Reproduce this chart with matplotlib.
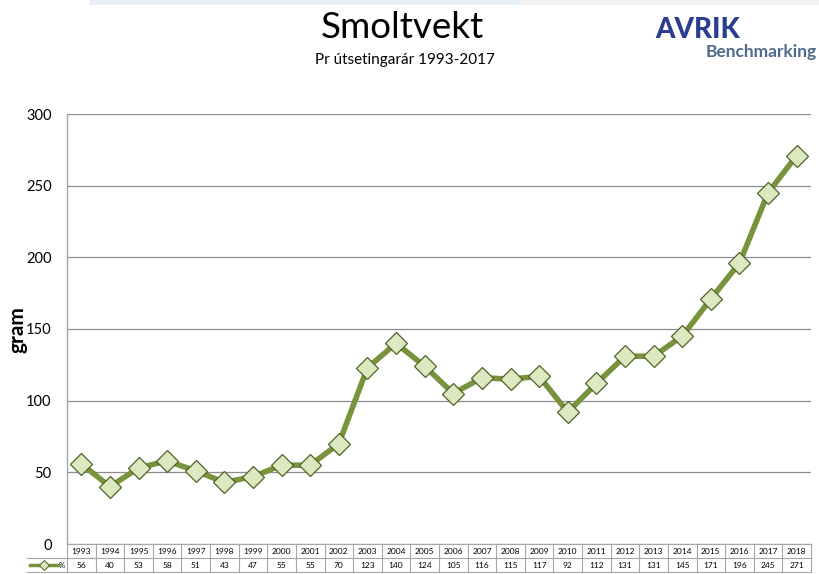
import matplotlib.pyplot as plt
from matplotlib.lines import Line2D
from matplotlib.patches import Rectangle

years = [str(y) for y in range(1993, 2019)]
weights = [56, 40, 53, 58, 51, 43, 47, 55, 55, 70, 123, 140, 124, 105,
           116, 115, 117, 92, 112, 131, 131, 145, 171, 196, 245, 271]
yticks = [0, 50, 100, 150, 200, 250, 300]

W, H = 819, 574
fig = plt.figure(figsize=(W / 100, H / 100), dpi=100)
plt.rcParams['font.family'] = ['Lato', 'DejaVu Sans']

# axes placed in pixel units
left, right, top, bottom = 67, 811, 114, 544
ax = fig.add_axes([left / W, 1 - bottom / H, (right - left) / W, (bottom - top) / H])

line_col = '#77933c'
edge_col = '#4f6228'
face_col = '#dbe8c0'
grid_col = '#8c8c8c'
tab_col = '#a6a6a6'

x = list(range(len(years)))
ax.plot(x, weights, color=line_col, lw=4.0, marker='D', ms=11,
        mfc=face_col, mec=edge_col, mew=0.9, zorder=3, clip_on=False)

ax.set_xlim(-0.5, len(years) - 0.5)
ax.set_ylim(0, 300)
ax.set_yticks(yticks)
ax.set_yticklabels([str(v) for v in yticks], fontsize=10.5)
ax.tick_params(axis='y', length=0, pad=11)
ax.set_xticks([])
ax.yaxis.grid(True, color=grid_col, lw=0.9)
ax.set_axisbelow(True)
for s in ['top', 'right', 'bottom']:
    ax.spines[s].set_visible(False)
ax.spines['left'].set_color(tab_col)
ax.spines['left'].set_linewidth(1.0)

ax.set_ylabel('gram', fontsize=15, fontweight='bold', va='center')
ax.yaxis.set_label_coords(-(67 - 18) / (right - left), (544 - 330) / (bottom - top))

# data table below plot: header row with years, data row with values
rh = 14 / (bottom - top)
tr = ax.get_xaxis_transform()
lw_t = 0.8
n = len(years)
for yy in [0, -rh, -2 * rh]:
    ax.plot([-0.5, n - 0.5], [yy, yy], transform=tr, color=tab_col, lw=lw_t, clip_on=False)
for i in range(n + 1):
    ax.plot([i - 0.5, i - 0.5], [0, -2 * rh], transform=tr, color=tab_col, lw=lw_t, clip_on=False)
for i in range(n):
    ax.text(i, -rh / 2, years[i], transform=tr, ha='center', va='center', fontsize=6)
    ax.text(i, -1.5 * rh, str(weights[i]), transform=tr, ha='center', va='center', fontsize=6)

# row label cell with legend key
lab_left = (27 - left) / (right - left)
ax.plot([lab_left, 0], [-rh, -rh], transform=ax.transAxes, color=tab_col, lw=lw_t, clip_on=False)
ax.plot([lab_left, 0], [-2 * rh, -2 * rh], transform=ax.transAxes, color=tab_col, lw=lw_t, clip_on=False)
ky = 1 - 565 / H
fig.add_artist(Line2D([30 / W, 58 / W], [ky, ky], color=line_col, lw=2.5))
fig.add_artist(Line2D([44 / W], [ky], marker='D', ms=5, mfc=face_col, mec=edge_col,
                      mew=0.7, color=line_col))
fig.text(59 / W, ky, '%', fontsize=5.5, va='center', ha='left')

# titles
fig.text(402 / W, 1 - 27 / H, 'Smoltvekt', fontsize=26.5, ha='center', va='center')
fig.text(405 / W, 1 - 60 / H, 'Pr útsetingarár 1993-2017', fontsize=11, ha='center', va='center')

# top band
fig.add_artist(Rectangle((90 / W, 1 - 5 / H), 430 / W, 5 / H, color='#e6eff8', lw=0))
fig.add_artist(Rectangle((520 / W, 1 - 5 / H), 299 / W, 5 / H, color='#f2f2f2', lw=0))

# logo text
fig.text(698 / W, 1 - 30 / H, 'AVRIK', fontsize=20, fontweight='black', color='#2a3d8f',
         ha='center', va='center')
fig.text(761 / W, 1 - 52 / H, 'Benchmarking', fontsize=12.5, fontweight='bold',
         color='#4f6b8a', ha='center', va='center')

fig.savefig('out.png', dpi=100)
